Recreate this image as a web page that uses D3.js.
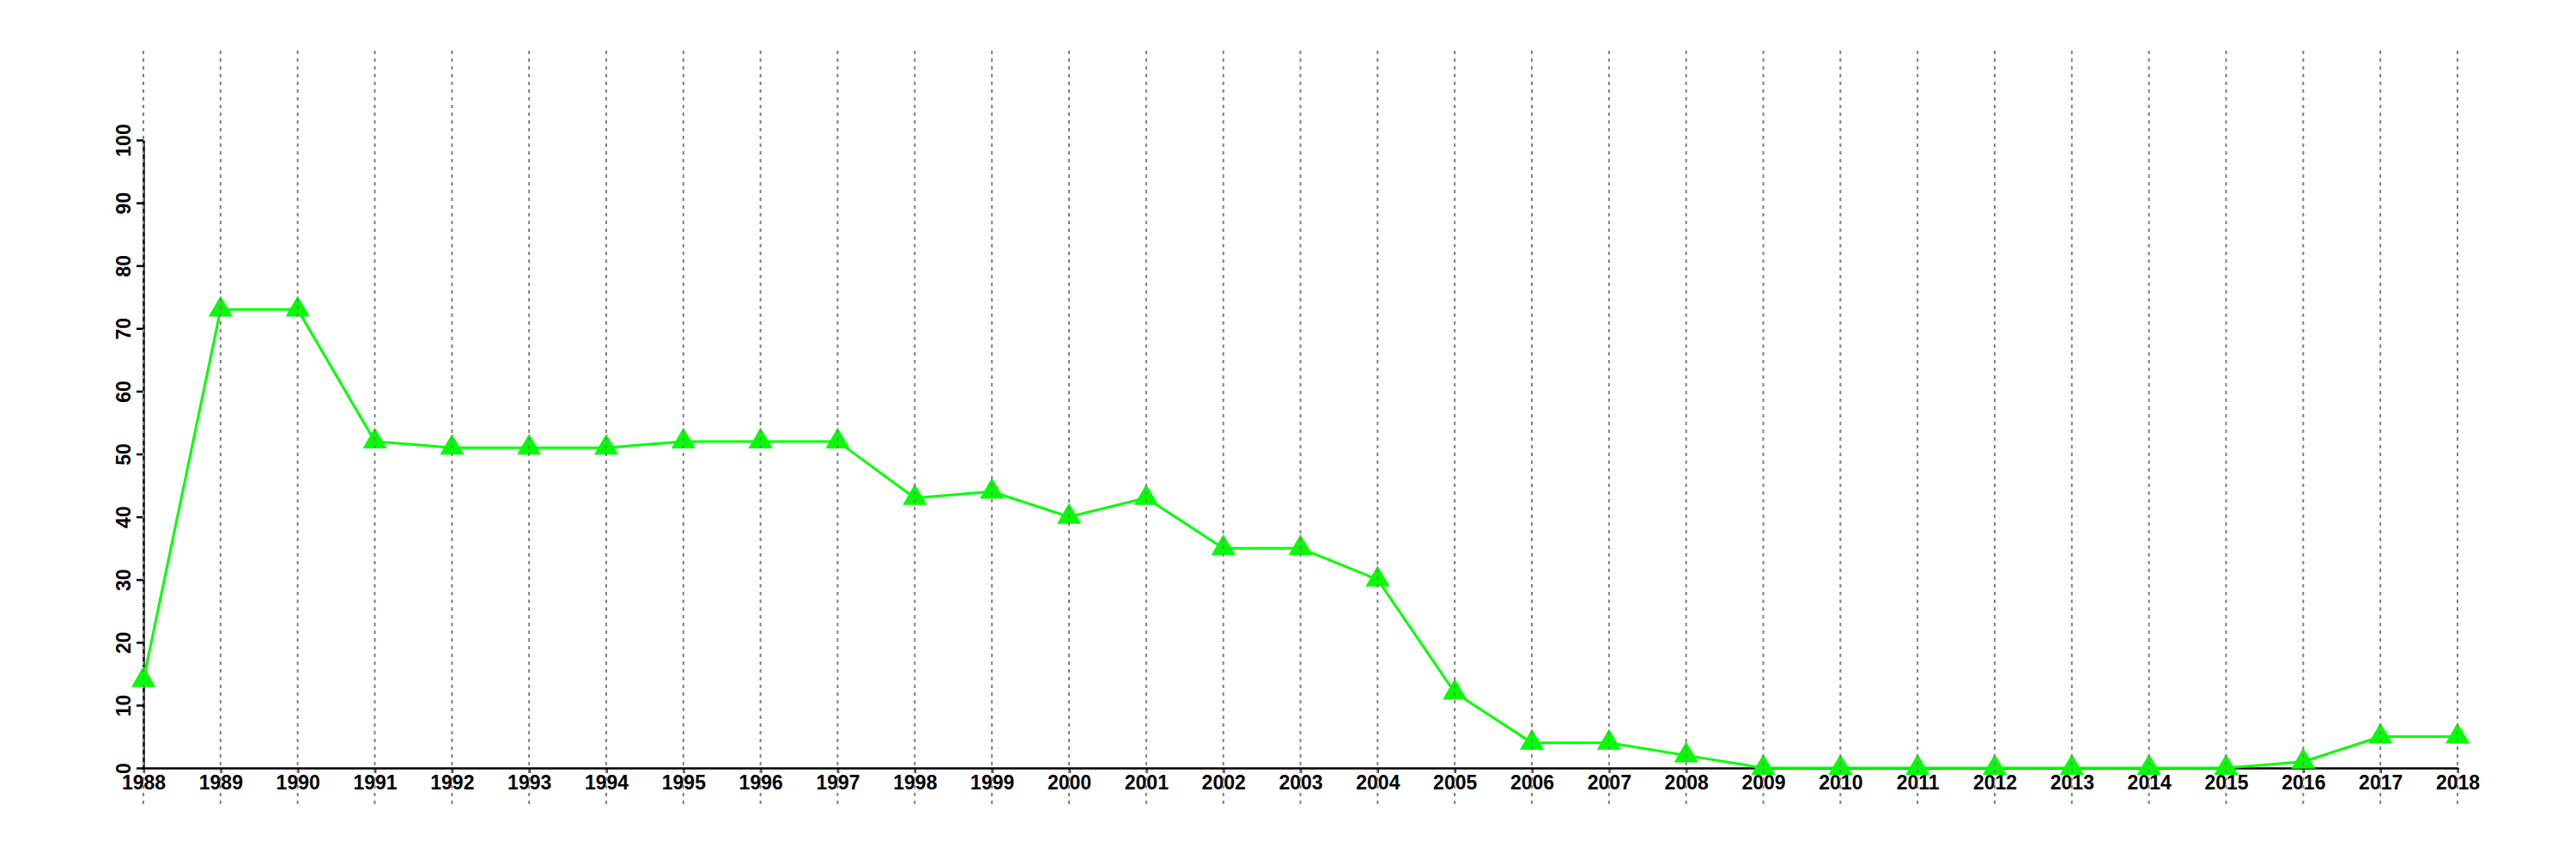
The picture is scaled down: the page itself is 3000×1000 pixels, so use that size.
<!DOCTYPE html>
<html>
<head>
<meta charset="utf-8">
<script src="https://cdn.jsdelivr.net/npm/d3@7"></script>
<style>
  html, body { margin: 0; padding: 0; background: #ffffff; }
  svg { display: block; }
  text { font-family: "Liberation Sans", Arial, Helvetica, sans-serif; font-weight: bold; }
</style>
</head>
<body>
<svg id="chart" width="3000" height="1000"></svg>
<script>
const years = [1988, 1989, 1990, 1991, 1992, 1993, 1994, 1995, 1996, 1997,
               1998, 1999, 2000, 2001, 2002, 2003, 2004, 2005, 2006, 2007,
               2008, 2009, 2010, 2011, 2012, 2013, 2014, 2015, 2016, 2017, 2018];
const values = [14, 73, 73, 52, 51, 51, 51, 52, 52, 52,
                43, 44, 40, 43, 35, 35, 30, 12, 4, 4,
                2, 0, 0, 0, 0, 0, 0, 0, 1, 5, 5];
const yTicks = [0, 10, 20, 30, 40, 50, 60, 70, 80, 90, 100];

const svg = d3.select("#chart");
const mLeft = 167, mRight = 2862, mTop = 163, mBottom = 894;

const x = d3.scaleLinear().domain([1988, 2018]).range([mLeft, mRight]);
const y = d3.scaleLinear().domain([0, 100]).range([mBottom, mTop]);

// Axes
const xAxis = d3.axisBottom(x).tickValues(years).tickFormat(d3.format("d")).tickSize(6).tickSizeOuter(0);
const yAxis = d3.axisLeft(y).tickValues(yTicks).tickSize(8).tickSizeOuter(0);

const gx = svg.append("g").attr("transform", `translate(0,${mBottom})`).call(xAxis);
gx.select(".domain").attr("stroke", "#000").attr("stroke-width", 2.5);
gx.selectAll(".tick line").attr("stroke", "#000").attr("stroke-width", 2.5);
gx.selectAll(".tick text").attr("font-size", 23).attr("fill", "#000").attr("dy", "0.71em").attr("y", 9);

const gy = svg.append("g").attr("transform", `translate(${mLeft},0)`).call(yAxis);
gy.select(".domain").attr("stroke", "#000").attr("stroke-width", 2.5);
gy.selectAll(".tick line").attr("stroke", "#000").attr("stroke-width", 2.5);
gy.selectAll(".tick text")
  .attr("font-size", 23).attr("fill", "#000")
  .attr("x", null).attr("dy", null)
  .attr("text-anchor", "middle")
  .attr("transform", "translate(-15,0) rotate(-90)");

// Line
const line = d3.line().x((d, i) => x(years[i])).y(d => y(d));
svg.append("path")
  .datum(values)
  .attr("fill", "none")
  .attr("stroke", "#00ff00")
  .attr("stroke-width", 3)
  .attr("d", line);

// Markers
const tri = d3.symbol().type(d3.symbolTriangle).size(340);
svg.append("g").selectAll("path")
  .data(values)
  .join("path")
  .attr("d", tri)
  .attr("fill", "#00ff00")
  .attr("transform", (d, i) => `translate(${x(years[i])},${y(d)})`);

// Vertical dotted gridlines (drawn on top)
svg.append("g").selectAll("line")
  .data(years)
  .join("line")
  .attr("x1", d => x(d)).attr("x2", d => x(d))
  .attr("y1", 59).attr("y2", 937)
  .attr("stroke", "#808080")
  .attr("stroke-width", 2)
  .attr("stroke-dasharray", "4,5");
</script>
</body>
</html>
